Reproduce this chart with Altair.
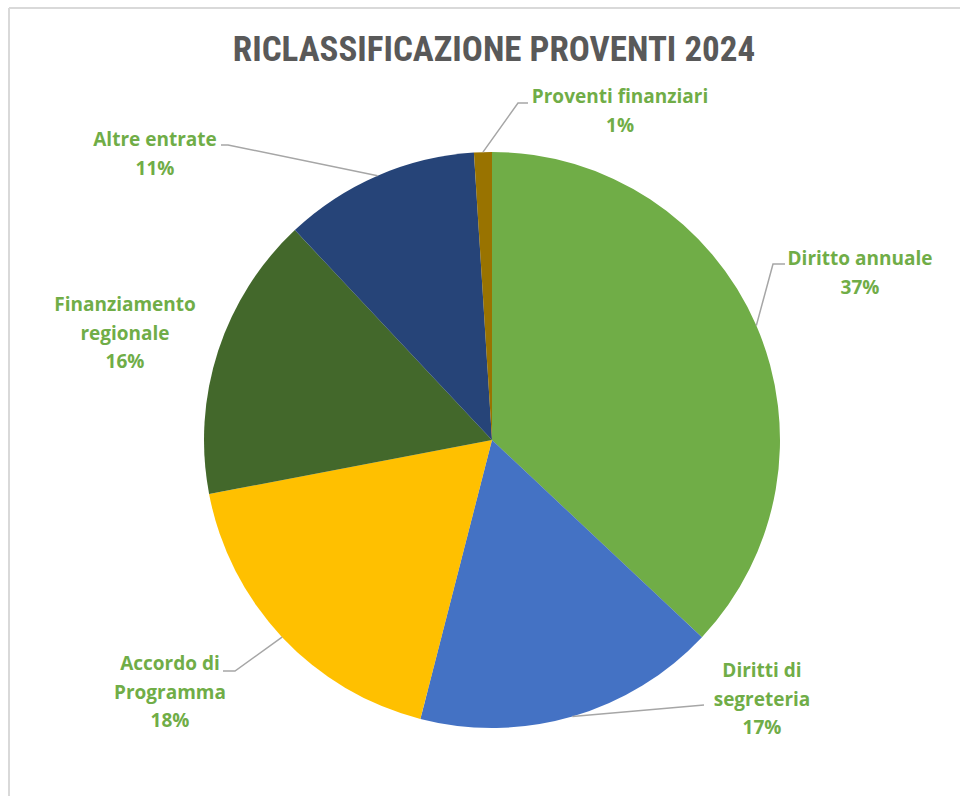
import math
import altair as alt
import pandas as pd

# Proventi 2024, per voce (percentuale sul totale)
categorie = [
    "Diritto annuale",
    "Diritti di segreteria",
    "Accordo di Programma",
    "Finanziamento regionale",
    "Altre entrate",
    "Proventi finanziari",
]
percentuali = [37, 17, 18, 16, 11, 1]
colori = ["#70AD47", "#4472C4", "#FFC000", "#43682B", "#264478", "#997300"]
righe_etichetta = [
    ["Diritto annuale"],
    ["Diritti di", "segreteria"],
    ["Accordo di", "Programma"],
    ["Finanziamento", "regionale"],
    ["Altre entrate"],
    ["Proventi finanziari"],
]

# Geometria della torta e posizione delle etichette
CX, CY, R = 492, 440, 288
LARGH, ALT = 960, 796
INTERLINEA = 28.5
etichetta_xy = [(860, 259), (762, 671), (170, 664), (125, 305), (155, 140), (620, 97)]
# gomito ed estremita' delle linee guida (None = nessuna linea)
guida_punti = [
    [(773, 264), (785, 264)],
    [(704, 705)],
    [(235, 671), (223, 671)],
    None,
    [(228, 145), (221, 145)],
    [(518, 103), (528, 103)],
]

fette = pd.DataFrame({
    "categoria": categorie,
    "valore": percentuali,
    "ordine": list(range(len(categorie))),
})

# Testo delle etichette, una riga per linea
righe = []
for cat, val, linee, (lx, ly) in zip(categorie, percentuali, righe_etichetta, etichetta_xy):
    for i, t in enumerate(linee + [f"{val}%"]):
        righe.append({"categoria": cat, "testo": t, "x": lx, "y": ly + i * INTERLINEA})
etichette = pd.DataFrame(righe)

# Linee guida: partono dal bordo della fetta, all'angolo medio
totale = sum(percentuali)
punti = []
cumul = 0
for cat, val, guida in zip(categorie, percentuali, guida_punti):
    medio = (cumul + val / 2) / totale * 2 * math.pi
    cumul += val
    if guida is None:
        continue
    sx = CX + R * math.sin(medio)
    sy = CY - R * math.cos(medio)
    for k, (px, py) in enumerate([(sx, sy)] + guida):
        punti.append({"categoria": cat, "k": k, "x": px, "y": py})
guide = pd.DataFrame(punti)

uno = pd.DataFrame({"u": [0]})

ombra = alt.layer(*[
    alt.Chart(uno).mark_circle(color="#000000", opacity=op, stroke=None).encode(
        x=alt.value(CX + 2), y=alt.value(CY + 3),
        size=alt.value(math.pi * (R + dr) ** 2),
    )
    for dr, op in [(5, 0.025), (3, 0.04), (1.5, 0.06)]
])

torta = alt.Chart(fette).mark_arc(outerRadius=R, stroke=None).encode(
    theta=alt.Theta("valore:Q", stack=True),
    color=alt.Color("categoria:N", scale=alt.Scale(domain=categorie, range=colori), legend=None),
    order=alt.Order("ordine:Q"),
    x=alt.value(CX),
    y=alt.value(CY),
)

linee_guida = alt.Chart(guide).mark_line(color="#A6A6A6", strokeWidth=1.5).encode(
    x=alt.X("x:Q", scale=None, axis=None),
    y=alt.Y("y:Q", scale=None, axis=None),
    detail="categoria:N",
    order="k:Q",
)

testi = alt.Chart(etichette).mark_text(
    font="Open Sans", fontWeight="bold", fontSize=19, color="#70AD47",
    align="center", baseline="middle",
).encode(
    x=alt.X("x:Q", scale=None, axis=None),
    y=alt.Y("y:Q", scale=None, axis=None),
    text="testo:N",
)

titolo = alt.Chart(uno).mark_text(
    text="RICLASSIFICAZIONE PROVENTI 2024",
    font="Liberation Sans Narrow, Roboto Condensed, Roboto",
    fontWeight="bold", fontSize=35, color="#595959",
    align="center", baseline="middle",
).encode(x=alt.value(494), y=alt.value(50))

bordo_alto = alt.Chart(uno).mark_rule(color="#D9D9D9", strokeWidth=2).encode(
    x=alt.value(9), x2=alt.value(LARGH), y=alt.value(8)
)
bordo_sx = alt.Chart(uno).mark_rule(color="#D9D9D9", strokeWidth=2).encode(
    x=alt.value(9), y=alt.value(8), y2=alt.value(ALT)
)

chart = alt.layer(
    bordo_alto, bordo_sx, ombra, torta, linee_guida, testi, titolo
).properties(
    width=LARGH, height=ALT, padding=0, autosize=alt.AutoSizeParams(type="none"),
    background="#FFFFFF",
).configure_view(stroke=None)

chart.save("out.html", embed_options={"renderer": "svg", "actions": False})
